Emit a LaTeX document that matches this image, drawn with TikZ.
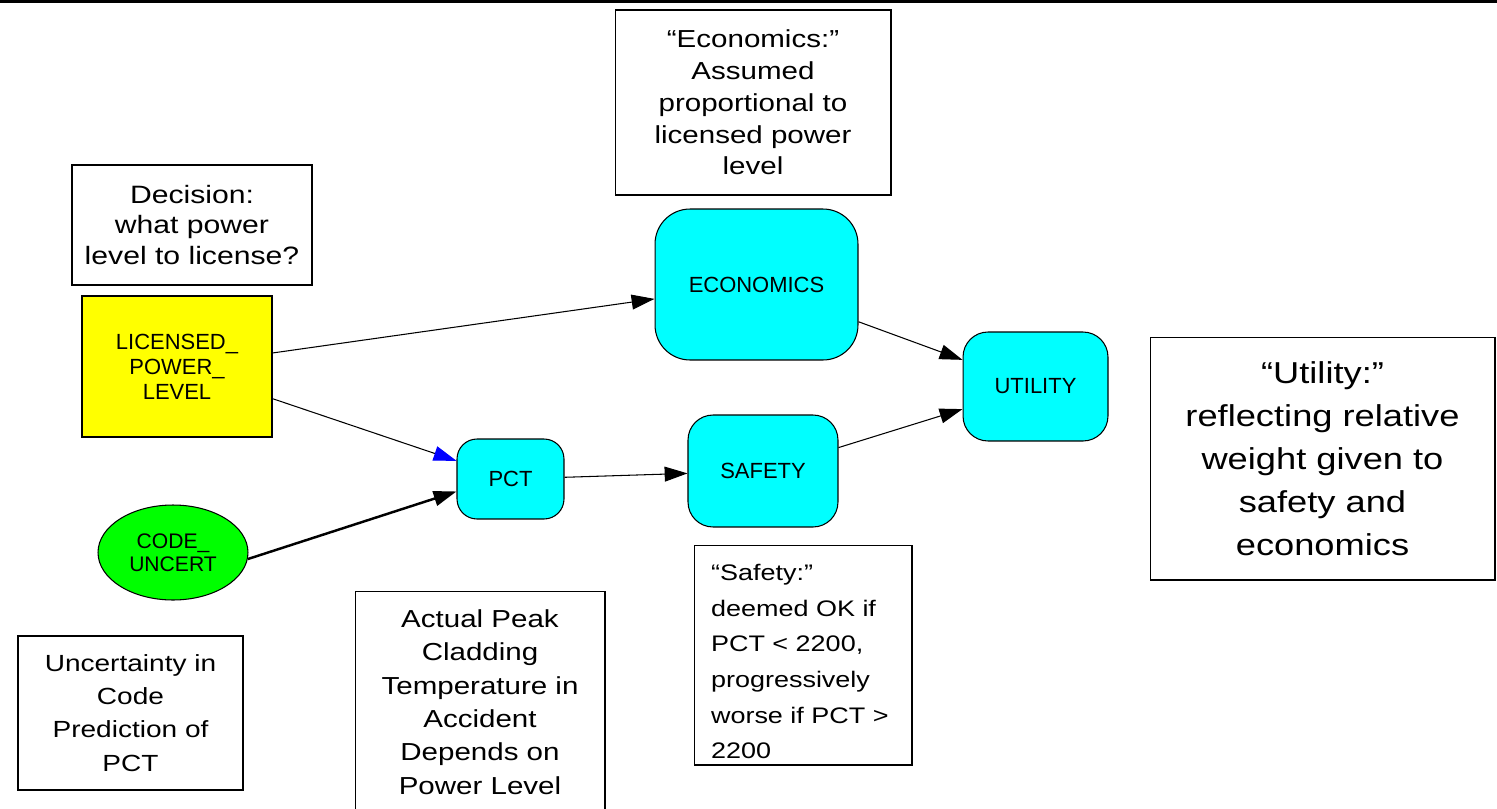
\documentclass[tikz,border=0pt]{standalone}
\usepackage{fontspec}
\setmainfont{Liberation Sans}
\newfontfamily\notefont{Liberation Sans}[FakeStretch=1.2]
\usetikzlibrary{shapes.geometric,arrows.meta}
\definecolor{wertcyan}{RGB}{0,255,255}
\definecolor{entgelb}{RGB}{255,255,0}
\definecolor{zufgruen}{RGB}{0,255,0}

\begin{document}
\begin{tikzpicture}[x=0.02cm,y=-0.02cm,
  >={Triangle[length=13pt,width=8.5pt]},
  notiz/.style={draw,line width=0.6pt,inner sep=2pt,align=center},
  knoten/.style={draw,line width=0.6pt,fill=wertcyan,rounded corners=#1,align=center,inner sep=2pt,
    font=\fontsize{12.5}{14.2}\selectfont},
  pfeil/.style={->,line width=0.6pt}]

\path[use as bounding box] (0,0) rectangle (1497,808);
\clip (0,0) rectangle (1497,808);

% Linie oben
\fill (0,0) rectangle (1497,3);

% Notizen
\node[notiz,minimum width=5.52cm,minimum height=3.7cm,font=\notefont\fontsize{14}{18.1}\selectfont]
  (econnote) at (753,102.5) {“Economics:”\\Assumed\\proportional to\\licensed power\\level};
\node[notiz,minimum width=4.8cm,minimum height=2.4cm,font=\notefont\fontsize{14.3}{17.6}\selectfont]
  (decnote) at (192,225) {Decision:\\what power\\level to license?};
\node[notiz,minimum width=6.9cm,minimum height=4.86cm,font=\notefont\fontsize{17.2}{24.4}\selectfont]
  (utilnote) at (1322.5,458.5) {“Utility:”\\reflecting relative\\weight given to\\safety and\\economics};
\node[notiz,minimum width=4.36cm,minimum height=4.4cm,align=left,inner xsep=0.34cm,text width=3.68cm,
  font=\notefont\fontsize{12.8}{20.3}\selectfont]
  (safenote) at (803,655) {“Safety:”\rule{0pt}{17pt}\\deemed OK if\\PCT < 2200,\\progressively\\worse if PCT >\\2200};
\node[notiz,minimum width=5cm,minimum height=4.44cm,font=\notefont\fontsize{14}{19}\selectfont]
  (peaknote) at (480,702) {Actual Peak\\Cladding\\Temperature in\\Accident\\Depends on\\Power Level};
\node[notiz,minimum width=4.5cm,minimum height=3.08cm,font=\notefont\fontsize{13.3}{18.9}\selectfont]
  (uncertnote) at (130.5,713) {Uncertainty in\\Code\\Prediction of\\PCT};

% Entscheidung und Zufallsknoten
\node[draw,line width=0.6pt,fill=entgelb,minimum width=3.8cm,minimum height=2.82cm,align=center,
  font=\fontsize{12.5}{14.2}\selectfont] (lpl) at (177,366.5) {LICENSED\_\\POWER\_\\LEVEL};
\node[draw,ellipse,line width=0.6pt,fill=zufgruen,minimum width=3cm,minimum height=1.9cm,inner sep=0pt,
  align=center,font=\fontsize{12}{13}\selectfont] (code) at (173,552.5) {CODE\_\\UNCERT};

% Wertknoten
\node[knoten=0.7cm,minimum width=4.06cm,minimum height=3.02cm] (econ) at (756.5,284.5) {ECONOMICS};
\node[knoten=0.5cm,minimum width=2.9cm,minimum height=2.18cm] (util) at (1035.5,386.5) {UTILITY};
\node[knoten=0.4cm,minimum width=2.14cm,minimum height=1.6cm] (pct) at (510.5,479) {PCT};
\node[knoten=0.5cm,minimum width=3cm,minimum height=2.24cm] (safe) at (763,471) {SAFETY};

% Pfeile
\draw[pfeil] (lpl) -- (econ);
\draw[line width=0.6pt,-{Triangle[length=13pt,width=8.5pt,color=blue]}] (lpl) -- (pct);
\draw[pfeil,line width=1.4pt] (code.355) -- (pct.193);
\draw[pfeil] (pct) -- (safe);
\draw[pfeil] (econ) -- (util);
\draw[pfeil] (safe) -- (util);

\end{tikzpicture}
\end{document}
